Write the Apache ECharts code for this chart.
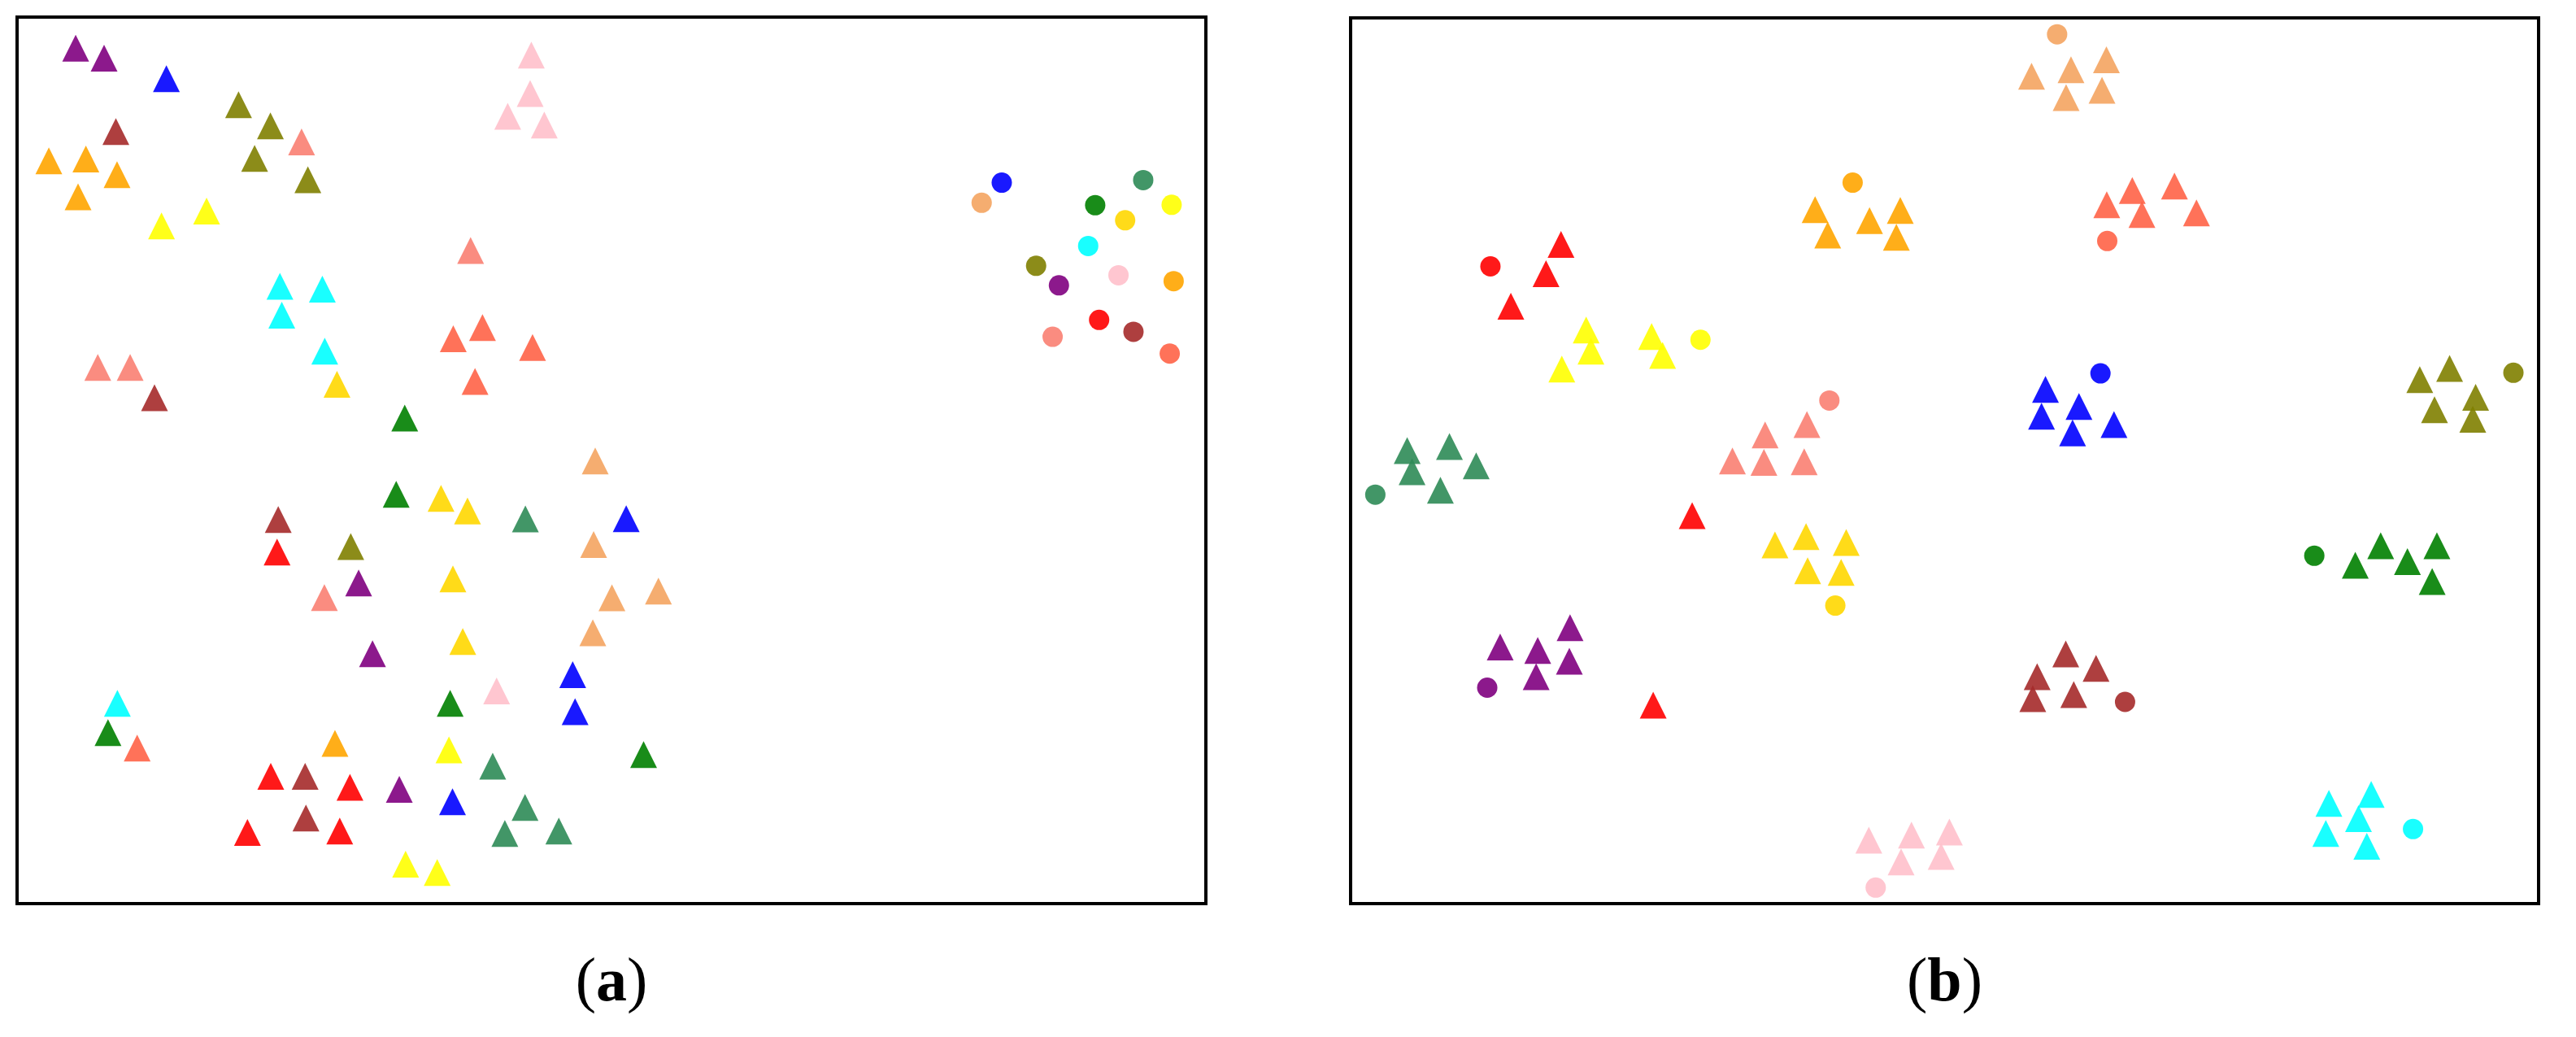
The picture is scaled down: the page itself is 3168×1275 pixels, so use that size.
<!DOCTYPE html>
<html>
<head>
<meta charset="utf-8">
<script src="https://cdn.jsdelivr.net/npm/echarts@6/dist/echarts.min.js"></script>
<style>
  html, body { margin: 0; padding: 0; background: #fff; }
  #main { width: 3168px; height: 1275px; }
</style>
</head>
<body>
<div id="main"></div>
<script>
// class colours (one circle + five triangles per class in each panel)
const classColors = ['purple', 'blue', 'olive', 'salmon', 'brown', 'orange', 'yellow', 'pink',
  'cyan', 'gold', 'tomato', 'green', 'sandybrown', 'seagreen', 'red']

const panelLabels = ['a', 'b']

// panel (a): triangles, listed per class in classColors order
const triA = [
  [[4.93, 96.49], [7.32, 95.36], [28.73, 36.17], [29.90, 28.19], [32.15, 12.88]],
  [[12.56, 93.06], [51.24, 43.41], [46.74, 25.83], [46.94, 21.65], [36.63, 11.49]],
  [[18.63, 90.12], [21.31, 87.72], [19.98, 84.06], [24.46, 81.65], [28.07, 40.27]],
  [[23.93, 85.92], [38.15, 73.68], [6.79, 60.48], [9.51, 60.48], [25.85, 34.52]],
  [[8.31, 87.08], [11.56, 57.07], [21.97, 43.33], [24.23, 14.35], [24.30, 9.65]],
  [[2.67, 83.79], [5.79, 83.98], [8.41, 82.22], [5.13, 79.72], [26.74, 18.08]],
  [[12.15, 76.45], [15.94, 78.12], [36.33, 17.35], [32.68, 4.45], [35.34, 3.51]],
  [[43.26, 95.72], [43.16, 91.38], [41.27, 88.81], [44.35, 87.81], [40.34, 23.99]],
  [[22.11, 69.64], [25.68, 69.31], [22.27, 66.37], [25.88, 62.31], [8.44, 22.59]],
  [[26.91, 58.57], [35.66, 45.70], [37.89, 44.29], [36.66, 36.62], [37.49, 29.56]],
  [[36.69, 63.71], [39.15, 64.97], [43.36, 62.74], [38.52, 58.91], [10.10, 17.55]],
  [[32.61, 54.77], [31.89, 46.16], [36.43, 22.59], [7.65, 19.28], [52.70, 16.82]],
  [[48.63, 49.94], [48.50, 40.50], [50.04, 34.49], [53.95, 35.26], [48.43, 30.56]],
  [[42.76, 43.39], [40.01, 15.51], [42.73, 10.85], [41.03, 7.92], [45.57, 8.18]],
  [[21.87, 39.66], [21.34, 14.35], [28.00, 13.12], [19.38, 8.02], [27.14, 8.18]]
]

// panel (a): circles, one per class
const circA = [
  [87.64, 69.74], [82.83, 81.32], [85.72, 71.94], [87.11, 63.94], [93.91, 64.50],
  [97.29, 70.21], [97.12, 78.82], [92.65, 70.88], [90.10, 74.18], [93.21, 77.08],
  [96.96, 62.04], [90.69, 78.78], [81.14, 79.05], [94.73, 81.61], [91.02, 65.84]
]

// panel (b): triangles
const triB = [
  [[12.59, 28.97], [15.75, 28.57], [18.47, 31.16], [18.41, 27.36], [15.62, 25.61]],
  [[58.49, 58.06], [58.16, 55.02], [61.31, 56.13], [60.77, 53.15], [64.26, 54.09]],
  [[90.00, 59.15], [92.51, 60.43], [94.70, 57.16], [91.24, 55.76], [94.46, 54.69]],
  [[38.41, 54.09], [34.89, 52.92], [32.14, 49.98], [34.79, 49.82], [38.18, 49.88]],
  [[60.20, 28.20], [57.79, 25.61], [62.75, 26.55], [57.42, 23.14], [60.87, 23.61]],
  [[39.10, 78.36], [40.16, 75.48], [43.68, 77.12], [46.27, 78.26], [45.94, 75.22]],
  [[19.83, 64.77], [20.23, 62.37], [17.78, 60.36], [25.34, 64.03], [26.26, 61.90]],
  [[43.62, 7.16], [47.21, 7.74], [50.40, 8.08], [46.34, 4.70], [49.71, 5.33]],
  [[82.35, 11.32], [85.91, 12.32], [84.84, 9.59], [82.09, 7.91], [85.54, 6.47]],
  [[35.72, 40.50], [38.34, 41.43], [41.72, 40.78], [38.47, 37.57], [41.29, 37.39]],
  [[63.65, 78.91], [65.80, 80.52], [69.35, 81.01], [66.61, 77.79], [71.20, 77.99]],
  [[84.57, 38.21], [86.71, 40.41], [88.96, 38.61], [91.44, 40.41], [91.04, 36.37]],
  [[57.32, 93.41], [60.64, 94.14], [63.62, 95.28], [60.23, 91.00], [63.25, 91.82]],
  [[4.76, 51.15], [8.32, 51.60], [10.57, 49.43], [5.17, 48.76], [7.56, 46.66]],
  [[17.71, 74.42], [16.45, 71.11], [13.49, 67.44], [28.75, 43.80], [25.47, 22.41]]
]

// panel (b): circles
const circB = [
  [11.50, 24.38], [63.12, 59.86], [97.88, 59.93], [40.30, 56.80], [65.19, 22.77],
  [42.26, 81.40], [29.45, 63.66], [44.20, 1.81], [89.43, 8.42], [40.80, 33.65],
  [63.69, 74.81], [81.12, 39.27], [59.47, 98.15], [2.08, 46.17], [11.77, 71.95]
]

const grids = [
  { left: 21, top: 21, width: 1462, height: 1090 },
  { left: 1661, top: 22, width: 1461, height: 1089 }
]

function buildSeries(tri, circ, gridIndex) {
  const out = []
  classColors.forEach((color, k) => {
    out.push({
      type: 'scatter',
      xAxisIndex: gridIndex,
      yAxisIndex: gridIndex,
      symbol: 'triangle',
      symbolSize: [33, 33],
      itemStyle: { color: color, opacity: 0.9 },
      data: tri[k]
    })
    out.push({
      type: 'scatter',
      xAxisIndex: gridIndex,
      yAxisIndex: gridIndex,
      symbol: 'circle',
      symbolSize: 25,
      itemStyle: { color: color, opacity: 0.9 },
      data: [circ[k]]
    })
  })
  return out
}

const chart = echarts.init(document.getElementById('main'), null, { renderer: 'canvas' })

const axisBase = { type: 'value', min: 0, max: 100, show: false }

const option = {
  backgroundColor: '#fff',
  animation: false,
  grid: grids.map(g => Object.assign({ show: true, borderColor: '#000', borderWidth: 4, backgroundColor: 'transparent' }, g)),
  xAxis: grids.map((g, i) => Object.assign({ gridIndex: i }, axisBase)),
  yAxis: grids.map((g, i) => Object.assign({ gridIndex: i }, axisBase)),
  graphic: panelLabels.map((lab, i) => ({
    type: 'text',
    x: grids[i].left + grids[i].width / 2,
    y: 1210,
    style: {
      text: '{p|(}{b|' + lab + '}{p|)}',
      align: 'center',
      verticalAlign: 'middle',
      fill: '#000',
      rich: {
        p: { fontFamily: 'Liberation Serif', fontSize: 76, fill: '#000' },
        b: { fontFamily: 'Liberation Serif', fontSize: 76, fontWeight: 'bold', fill: '#000' }
      }
    }
  })),
  series: buildSeries(triA, circA, 0).concat(buildSeries(triB, circB, 1))
}

chart.setOption(option)
</script>
</body>
</html>
